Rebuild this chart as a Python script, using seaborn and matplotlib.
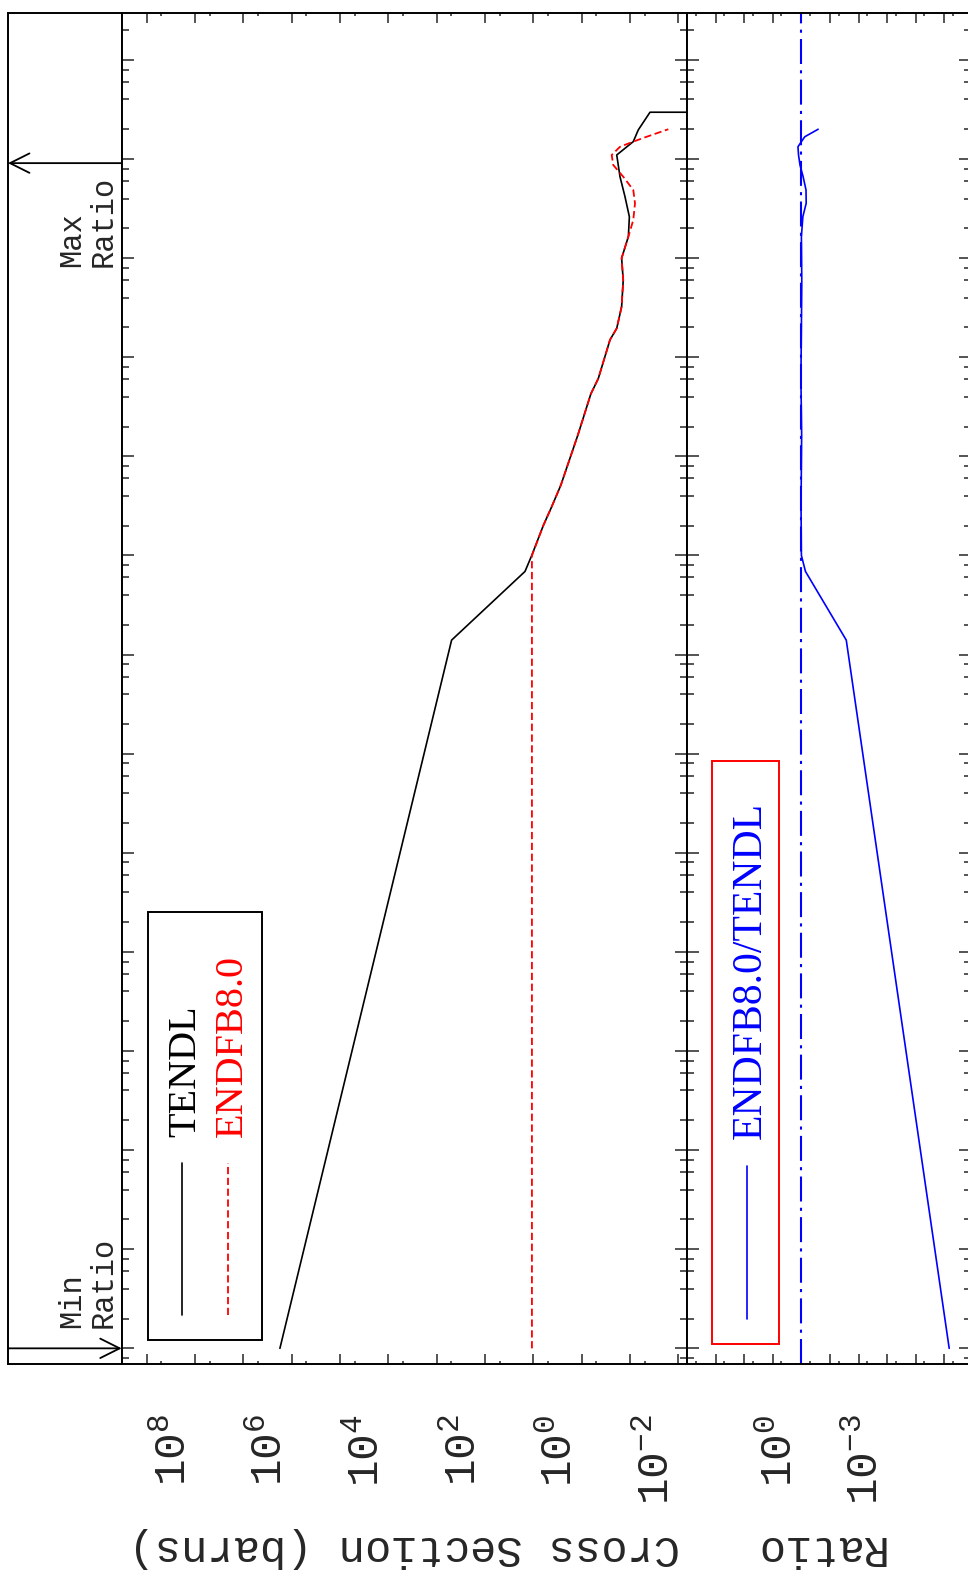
import numpy as np
import seaborn as sns
import matplotlib.pyplot as plt
from matplotlib.patches import Rectangle
from matplotlib.lines import Line2D
from matplotlib.ticker import LogLocator, NullFormatter, FixedLocator

# incident energy (eV) and cross sections (barns)
tendl_energy = [1.0e-5, 140, 690, 1.0e3, 2.0e3, 3.1e3, 5.1e3, 1.66e4, 4.27e4, 6.1e4,
                1.5e5, 1.96e5, 3.24e5, 6.0e5, 1.0e6, 1.65e6, 2.62e6, 4.18e6, 6.64e6,
                1.1e7, 1.5e7, 1.97e7, 2.97e7, 2.97e7]
tendl_xs = [1.76e6, 492, 14.9, 10.8, 6.24, 4.18, 2.71, 1.19, 0.646, 0.453,
            0.259, 0.188, 0.149, 0.138, 0.149, 0.108, 0.103, 0.127, 0.161,
            0.188, 0.0855, 0.0673, 0.0385, 1e-4]

endf_energy = [1.0e-5, 1.0e3, 2.0e3, 3.1e3, 5.1e3, 1.66e4, 4.27e4, 6.1e4, 1.5e5, 1.96e5,
               3.24e5, 6.0e5, 1.0e6, 1.65e6, 2.43e6, 3.58e6, 4.88e6, 6.64e6, 8.71e6,
               1.1e7, 1.33e7, 1.5e7, 1.68e7, 2.0e7]
endf_xs = [10.7, 10.7, 6.24, 4.18, 2.71, 1.19, 0.646, 0.453, 0.259, 0.188,
           0.149, 0.138, 0.149, 0.108, 0.0855, 0.0787, 0.0855, 0.138, 0.222,
           0.239, 0.161, 0.0855, 0.045, 0.0161]

ratio_energy = [1.0e-5, 140, 690, 1.0e3, 3.1e3, 1.66e4, 6.1e4, 1.96e5, 6.0e5, 1.65e6,
                2.62e6, 3.58e6, 4.88e6, 6.64e6, 8.71e6, 1.1e7, 1.33e7, 1.5e7, 1.68e7, 2.0e7]
ratio = [6.8e-6, 0.027, 0.72, 1.0, 1.03, 0.98, 1.04, 1.0, 0.97, 1.0,
         0.89, 0.68, 0.69, 0.87, 1.12, 1.26, 1.32, 1.0, 0.76, 0.26]

max_ratio_energy = 9.1e6
min_ratio_energy = 1.0e-5

xs_label_exps = [8, 6, 4, 2, 0, -2]
ratio_label_exps = [0, -3]

sns.set_style("white")
plt.rcParams['font.family'] = ['Liberation Mono', 'DejaVu Sans']

mono = 'Liberation Mono'
serif = 'Liberation Serif'
dash = (0, (4, 2))

fig = plt.figure(figsize=(9.68, 15.84), dpi=100)
strip = fig.add_axes([0.00826, 0.13889, 0.11746, 0.85272])
ax1 = fig.add_axes([0.12572, 0.13889, 0.58399, 0.85272], sharey=strip)
ax2 = fig.add_axes([0.70971, 0.13889, 0.29339, 0.85272], sharey=strip)

strip.set_yscale('log')
ax1.set_xscale('log')
ax2.set_xscale('log')

sns.lineplot(x=tendl_xs, y=tendl_energy, sort=False, estimator=None, color='black',
             lw=1.2, ax=ax1)
sns.lineplot(x=endf_xs, y=endf_energy, sort=False, estimator=None, color='red',
             lw=1.3, linestyle=dash, ax=ax1)
sns.lineplot(x=ratio, y=ratio_energy, sort=False, estimator=None, color='blue',
             lw=1.2, ax=ax2)
ax2.axvline(1.0, color='blue', lw=1.5, ls=(0, (12, 3, 1.5, 3)))

# ticks
def tick_labels(exps, lo, hi):
    ticks = [10.0 ** k for k in range(lo, hi + 1)]
    labels = [r'$\mathregular{10^{%d}}$' % k if k in exps else '' for k in range(lo, hi + 1)]
    return ticks, labels

for ax, (lo, hi), exps in [(ax1, (-2, 9), xs_label_exps), (ax2, (-5, 3), ratio_label_exps)]:
    ticks, labels = tick_labels(exps, lo, hi)
    ax.set_xticks(ticks, labels=labels)
    ax.xaxis.set_minor_locator(LogLocator(base=10, subs=[5], numticks=40))
    ax.xaxis.set_minor_formatter(NullFormatter())
    for lbl in ax.get_xticklabels():
        lbl.set_rotation(90)
        lbl.set_ha('right')
        lbl.set_va('top')
        lbl.set_fontfamily(mono)
        lbl.set_fontsize(32)
    ax.tick_params(which='both', direction='in', top=True, bottom=True,
                   left=True, right=True, labelleft=False, width=1.1)
    ax.tick_params(axis='x', which='major', length=7, pad=36)
    ax.tick_params(axis='x', which='minor', length=2.2)
    ax.tick_params(axis='y', which='major', length=8.6)
    ax.tick_params(axis='y', which='minor', length=5)
    for sp in ax.spines.values():
        sp.set_linewidth(1.4)
        sp.set_color('black')

ax1.yaxis.set_major_locator(FixedLocator([10.0 ** k for k in range(-5, 9)]))
ax1.yaxis.set_minor_locator(LogLocator(base=10, subs=[2, 4, 6, 8], numticks=40))
ax1.yaxis.set_major_formatter(NullFormatter())
ax1.yaxis.set_minor_formatter(NullFormatter())

strip.tick_params(which='both', left=False, right=False, bottom=False, top=False,
                  labelleft=False, labelbottom=False)
strip.set_xlim(0, 1)
for sp in strip.spines.values():
    sp.set_linewidth(1.4)
    sp.set_color('black')

# min / max ratio markers
ytr = strip.get_yaxis_transform()
strip.annotate('', xy=(0, max_ratio_energy), xytext=(1, max_ratio_energy),
               xycoords=ytr, textcoords=ytr,
               arrowprops=dict(arrowstyle='->,head_length=0.7,head_width=0.35',
                               lw=1.3, color='black', shrinkA=0, shrinkB=0,
                               mutation_scale=20))
strip.annotate('', xy=(1, min_ratio_energy), xytext=(0, min_ratio_energy),
               xycoords=ytr, textcoords=ytr,
               arrowprops=dict(arrowstyle='->,head_length=0.7,head_width=0.35',
                               lw=1.3, color='black', shrinkA=0, shrinkB=0,
                               mutation_scale=20))
strip.text(0.70, 0.812, 'Max\nRatio', rotation=90, ha='center', va='bottom',
           multialignment='left', linespacing=1.05, transform=strip.transAxes,
           fontsize=22, fontfamily=mono)
strip.text(0.70, 0.0267, 'Min\nRatio', rotation=90, ha='center', va='bottom',
           multialignment='left', linespacing=1.05, transform=strip.transAxes,
           fontsize=22, fontfamily=mono)

# legends (drawn rotated, like the rest of the page)
ax1.add_patch(Rectangle((0.047, 0.0178), 0.2007, 0.3167, transform=ax1.transAxes,
                        fill=False, ec='black', lw=1.4))
ax1.add_line(Line2D([0.1061, 0.1061], [0.0363, 0.1486], transform=ax1.transAxes,
                    color='black', lw=1.2))
ax1.add_line(Line2D([0.1875, 0.1875], [0.0363, 0.1486], transform=ax1.transAxes,
                    color='red', lw=1.3, ls=dash))
ax1.text(0.113, 0.168, 'TENDL', rotation=90, ha='center', va='bottom',
         transform=ax1.transAxes, fontsize=29, fontfamily=serif, color='black')
ax1.text(0.196, 0.168, 'ENDFB8.0', rotation=90, ha='center', va='bottom',
         transform=ax1.transAxes, fontsize=29, fontfamily=serif, color='red')

ax2.add_patch(Rectangle((0.0891, 0.0148), 0.2359, 0.4316, transform=ax2.transAxes,
                        fill=False, ec='red', lw=1.4))
ax2.add_line(Line2D([0.2102, 0.2102], [0.0333, 0.1466], transform=ax2.transAxes,
                    color='blue', lw=1.2))
ax2.text(0.222, 0.1666, 'ENDFB8.0/TENDL', rotation=90, ha='center', va='bottom',
         transform=ax2.transAxes, fontsize=30, fontfamily=serif, color='blue')

# axis titles
ax1.set_xlabel('Cross Section (barns)', rotation=180, fontsize=31.5, fontfamily=mono)
ax1.xaxis.set_label_coords(0.5, -0.1362)
ax1.xaxis.label.set_va('center')
ax2.set_xlabel('Ratio', rotation=180, fontsize=31.5, fontfamily=mono)
ax2.xaxis.set_label_coords(0.462, -0.1362)
ax2.xaxis.label.set_va('center')

ax1.set_xlim(10 ** 9.52, 10 ** -2.18)
ax2.set_xlim(10 ** 4.0, 10 ** -5.93)
strip.set_ylim(10 ** -5.158, 10 ** 8.471)

fig.savefig('out.png', dpi=100)
